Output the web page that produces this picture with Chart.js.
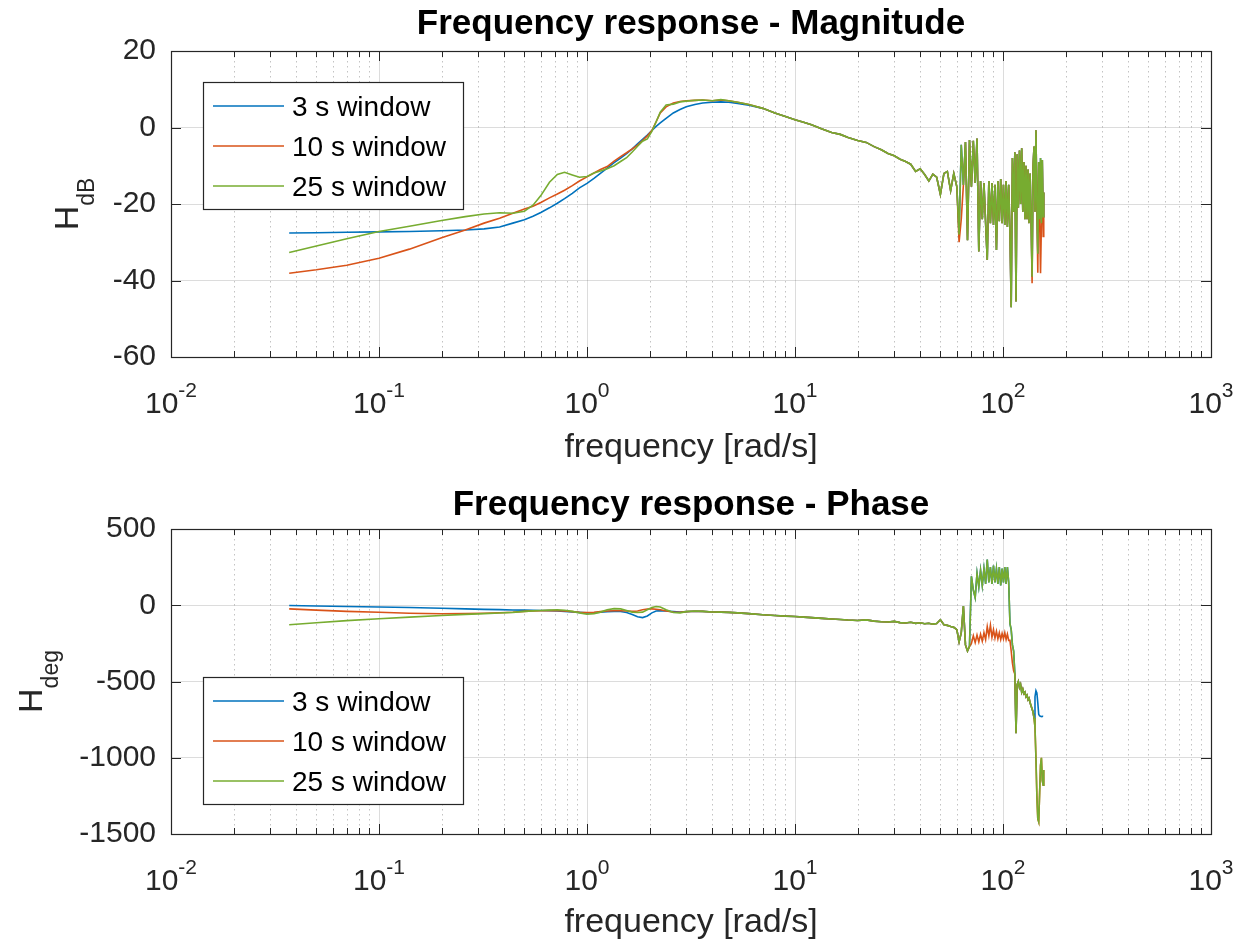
<!DOCTYPE html>
<html>
<head>
<meta charset="utf-8">
<title>Frequency response</title>
<script src="https://cdn.jsdelivr.net/npm/chart.js@4.4.1/dist/chart.umd.min.js"></script>
<style>
  body { margin: 0; background: #fff; }
  canvas { display: block; }
</style>
</head>
<body>
<canvas id="magChart" width="1241" height="474"></canvas>
<canvas id="phaseChart" width="1241" height="474"></canvas>
<script>
// frequency points [rad/s]
const freq = [
  0.037, 0.05, 0.07, 0.1, 0.14, 0.2, 0.26, 0.32, 0.38, 0.44,
  0.5, 0.55, 0.6, 0.66, 0.72, 0.78, 0.85, 0.92, 1.0, 1.08,
  1.16, 1.25, 1.35, 1.45, 1.55, 1.65, 1.75, 1.85, 1.95, 2.05,
  2.15, 2.25, 2.4, 2.6, 2.8, 3.0, 3.3, 3.6, 4.0, 4.4,
  4.8, 5.3, 6.0, 7.0, 8.0, 9.0, 10, 11, 12, 13.5,
  15, 16.5, 18, 20, 22, 24, 26, 28, 30, 32,
  34, 36, 38, 40, 42, 44, 46, 48, 50, 52,
  54, 56, 58, 60, 61.5, 63, 64.5, 66, 67.5, 69,
  70.5, 72, 73.5, 75, 76.5, 78, 79.5, 81, 82.5, 84,
  85.5, 87, 88.5, 90, 91.5, 93, 94.5, 96, 97.5, 99,
  100.5, 102, 103.5, 105, 106.5, 108, 109.5, 111, 112.5, 114,
  115.5, 117, 118.5, 120, 121.5, 123, 124.5, 126, 127.5, 129,
  130.5, 132, 133.5, 135, 136.5, 138, 139.5, 141, 142.5, 144,
  145.5, 147, 148.5, 150, 151.5, 153, 154.5, 156, 157
];

// magnitude [dB]
const mag3s = [
  -27.6, -27.5, -27.4, -27.3, -27.2, -27.0, -26.8, -26.5, -26.0, -25.0,
  -24.1, -23.2, -22.2, -21.0, -19.8, -18.6, -17.2, -15.8, -14.6, -13.3,
  -12.0, -10.6, -9.2, -8.0, -6.8, -5.6, -4.3, -3.1, -2.0, -0.8,
  0.3, 1.2, 2.4, 3.8, 4.7, 5.4, 6.0, 6.4, 6.6, 6.7,
  6.6, 6.3, 5.8, 5.0, 3.8, 2.9, 2.0, 1.4, 0.7, -0.4,
  -1.3, -1.8, -2.6, -3.4, -3.9, -5.0, -5.8, -6.8, -7.4, -8.3,
  -8.9, -9.6, -11.5, -10.8, -12.3, -14.0, -12.2, -13.0, -17.5, -12.0,
  -11.5, -16.5, -12.0, -15.5, -28.0, -4.5, -15.0, -3.8, -29.5, -3.3,
  -15.5, -3.5, -14.5, -2.9, -32.4, -14.0, -24.0, -14.5, -25.0, -34.6,
  -14.0, -25.0, -14.5, -25.5, -15.0, -32.0, -14.0, -24.5, -13.5, -25.0,
  -15.0, -25.5, -14.0, -26.0, -15.0, -27.0, -47.0, -8.0, -22.0, -6.5,
  -45.5, -7.0, -21.0, -6.0, -20.0, -5.4, -22.0, -9.0, -24.0, -10.0,
  -24.0, -11.0, -25.0, -12.0, -24.0, -39.0, -10.0, -5.0, -22.0, -0.7,
  -20.0, -33.0, -9.0, -24.0, -8.0, -25.0, -8.5, -23.3, -17.0
];
const mag10s = [
  -38.1, -37.2, -36.0, -34.2, -31.8, -28.8, -26.8, -25.0, -23.7, -22.4,
  -21.3, -20.6, -19.6, -18.4, -17.4, -16.4, -15.2, -14.0, -12.9, -11.9,
  -11.0, -10.2, -8.8, -7.6, -6.6, -5.6, -4.6, -3.4, -2.2, -0.8,
  1.5, 3.8, 5.4, 6.4, 6.8, 7.0, 7.1, 7.2, 7.0, 7.2,
  7.0, 6.6, 6.0, 5.0, 3.8, 2.9, 2.0, 1.4, 0.7, -0.4,
  -1.3, -1.8, -2.6, -3.4, -3.9, -5.0, -5.8, -6.8, -7.4, -8.3,
  -8.9, -9.6, -11.5, -10.8, -12.3, -14.0, -12.2, -13.0, -17.5, -12.0,
  -11.5, -16.5, -12.0, -15.5, -30.0, -24.0, -15.0, -3.8, -29.5, -3.3,
  -15.5, -3.5, -14.5, -2.9, -32.4, -14.0, -24.0, -14.5, -25.0, -34.6,
  -14.0, -25.0, -14.5, -25.5, -15.0, -32.0, -14.0, -24.5, -13.5, -25.0,
  -15.0, -25.5, -14.0, -26.0, -15.0, -27.0, -47.0, -8.0, -22.0, -6.5,
  -45.5, -7.0, -21.0, -6.0, -20.0, -5.4, -22.0, -9.0, -24.0, -10.0,
  -24.0, -11.0, -25.0, -12.0, -24.0, -40.7, -10.0, -5.0, -22.0, -0.7,
  -20.0, -38.0, -9.0, -24.0, -38.1, -25.0, -8.5, -28.5, -17.0
];
const mag25s = [
  -32.7, -31.0, -29.1, -27.2, -25.8, -24.3, -23.3, -22.6, -22.3, -22.4,
  -21.9, -20.3, -17.8, -14.3, -12.3, -11.7, -12.4, -13.0, -12.8, -11.9,
  -11.4, -10.8, -10.0, -8.9, -7.9, -6.4, -4.9, -3.6, -3.0, -1.0,
  1.5, 4.0, 5.9, 6.1, 6.7, 6.9, 7.1, 7.2, 7.0, 7.3,
  7.0, 6.6, 6.0, 5.0, 3.8, 2.9, 2.0, 1.4, 0.7, -0.4,
  -1.3, -1.8, -2.6, -3.4, -3.9, -5.0, -5.8, -6.8, -7.4, -8.3,
  -8.9, -9.6, -11.5, -10.8, -12.3, -14.0, -12.2, -13.0, -17.5, -12.0,
  -11.5, -16.5, -12.0, -15.5, -28.0, -4.5, -15.0, -3.8, -29.5, -3.3,
  -15.5, -3.5, -14.5, -2.9, -32.4, -14.0, -24.0, -14.5, -25.0, -34.6,
  -14.0, -25.0, -14.5, -25.5, -15.0, -32.0, -14.0, -24.5, -13.5, -25.0,
  -15.0, -25.5, -14.0, -26.0, -15.0, -27.0, -47.0, -8.0, -22.0, -6.5,
  -45.5, -7.0, -21.0, -6.0, -20.0, -5.4, -22.0, -9.0, -24.0, -10.0,
  -24.0, -11.0, -25.0, -12.0, -24.0, -39.0, -10.0, -5.0, -22.0, -0.7,
  -20.0, -33.0, -9.0, -24.0, -8.0, -25.0, -8.5, -23.3, -17.0
];

// phase [deg]
const phase3s = [
  -2, -5, -8, -11, -15, -20, -24, -27, -29, -31,
  -32, -33, -34, -35, -37, -40, -44, -47, -50, -49,
  -46, -42, -40, -41, -48, -60, -75, -81, -70, -50,
  -38, -35, -38, -42, -45, -42, -39, -40, -44, -45,
  -47, -50, -55, -62, -67, -71, -74, -78, -81, -86,
  -90, -93, -97, -100, -96, -104, -108, -110, -106, -114,
  -116, -112, -119, -115, -121, -118, -124, -120, -95, -128,
  -132, -140, -145, -160, -240, -180, -5, -260, -300, -270,
  190, 100, 50, 210, 120, 230, 130, 240, 140, 300,
  150, 250, 140, 260, 150, 240, 140, 250, 130, 240,
  150, 250, 140, 250, 150, -120, -160, -260, -300, -450,
  -840, -520, -500, -540, -520, -570, -550, -580, -570, -600,
  -590, -620, -610, -640, -660, -680, -700, -740, -600, -560,
  -575, -640, -715, -725, -728, -730, -728, -730, -730
];
const phase10s = [
  -24, -32, -40, -46, -52, -56, -55, -52, -49, -46,
  -40, -37, -36, -35, -36, -38, -42, -46, -48, -46,
  -42, -38, -36, -36, -38, -40, -38, -30, -25, -24,
  -26, -30, -38, -44, -46, -42, -39, -40, -44, -45,
  -47, -50, -55, -62, -67, -71, -74, -78, -81, -86,
  -90, -93, -97, -100, -96, -104, -108, -110, -106, -114,
  -116, -112, -119, -115, -121, -118, -124, -120, -95, -128,
  -132, -140, -145, -160, -240, -180, -5, -260, -300, -270,
  -250, -200, -245, -195, -240, -190, -235, -180, -225, -140,
  -200, -130, -210, -160, -215, -170, -220, -180, -225, -185,
  -220, -180, -225, -190, -230, -230, -300, -380, -430, -450,
  -840, -520, -500, -540, -520, -570, -550, -580, -570, -600,
  -590, -620, -610, -640, -660, -680, -700, -740, -800, -1000,
  -1250, -1400, -1420, -1230, -1050, -1000, -1150, -1180, -1080
];
const phase25s = [
  -128, -115, -101, -89, -78, -67, -60, -55, -51, -47,
  -40, -37, -34, -32, -30, -33, -40, -50, -59, -55,
  -45, -30, -22, -24, -35, -45, -48, -45, -30, -15,
  -8, -12, -30, -48, -50, -42, -38, -40, -44, -45,
  -47, -50, -55, -62, -67, -71, -74, -78, -81, -86,
  -90, -93, -97, -100, -96, -104, -108, -110, -106, -114,
  -116, -112, -119, -115, -121, -118, -124, -120, -95, -128,
  -132, -140, -145, -160, -240, -180, -5, -260, -300, -270,
  190, 100, 50, 210, 120, 230, 130, 240, 140, 300,
  150, 250, 140, 260, 150, 240, 140, 250, 130, 240,
  150, 250, 140, 250, 150, -120, -160, -260, -300, -450,
  -840, -520, -500, -540, -520, -570, -550, -580, -570, -600,
  -590, -620, -610, -640, -660, -680, -700, -740, -800, -1000,
  -1250, -1400, -1420, -1230, -1050, -1000, -1150, -1180, -1080
];

const windowLabels = ['3 s window', '10 s window', '25 s window'];
const windowColors = ['#0072BD', '#D95319', '#77AC30'];
const decades = [-2, -1, 0, 1, 2, 3];

const FONT = '"Liberation Sans", Arial, Helvetica, sans-serif';
const AXIS_COLOR = '#262626';
Chart.defaults.font.family = FONT;

function points(values) {
  return freq.map((f, i) => ({ x: f, y: values[i] }));
}

function hline(ctx, x1, y1, x2, y2) {
  ctx.beginPath();
  ctx.moveTo(x1, y1);
  ctx.lineTo(x2, y2);
  ctx.stroke();
}

// matlab look: log grid, box with inward ticks, 10^n labels, subscript ylabel, boxed legend
const matlabAxes = {
  id: 'matlabAxes',
  beforeDatasetsDraw(chart) {
    const { ctx, chartArea: a, scales: { x } } = chart;
    ctx.save();
    ctx.lineWidth = 1;
    decades.forEach(e => {
      if (e === 3) return;
      for (let m = 1; m <= 9; m++) {
        const px = Math.round(x.getPixelForValue(m * Math.pow(10, e))) + 0.5;
        if (m === 1) {
          ctx.strokeStyle = 'rgba(38,38,38,0.16)';
          ctx.setLineDash([]);
        } else {
          ctx.strokeStyle = 'rgba(38,38,38,0.28)';
          ctx.setLineDash([1.5, 3.5]);
        }
        hline(ctx, px, a.top, px, a.bottom);
      }
    });
    ctx.restore();
  },
  afterDraw(chart, args, opts) {
    const { ctx, chartArea: a, scales: { x, y } } = chart;
    ctx.save();
    ctx.strokeStyle = AXIS_COLOR;
    ctx.lineWidth = 1;
    ctx.setLineDash([]);

    // x ticks (inward, top + bottom)
    decades.forEach(e => {
      for (let m = 1; m <= 9; m++) {
        const v = m * Math.pow(10, e);
        if (v > 1000) break;
        const px = Math.round(x.getPixelForValue(v)) + 0.5;
        const len = m === 1 ? 10 : 6;
        hline(ctx, px, a.bottom, px, a.bottom - len);
        hline(ctx, px, a.top, px, a.top + len);
      }
    });
    // y ticks (inward, left + right)
    y.ticks.forEach(t => {
      const py = Math.round(y.getPixelForValue(t.value)) + 0.5;
      hline(ctx, a.left, py, a.left + 10, py);
      hline(ctx, a.right, py, a.right - 10, py);
    });
    // box
    ctx.lineWidth = 1.2;
    ctx.strokeRect(Math.round(a.left) + 0.5, Math.round(a.top) + 0.5,
      Math.round(a.right - a.left), Math.round(a.bottom - a.top));

    // x tick labels 10^n
    ctx.fillStyle = AXIS_COLOR;
    ctx.textBaseline = 'alphabetic';
    ctx.textAlign = 'left';
    decades.forEach(e => {
      const px = x.getPixelForValue(Math.pow(10, e));
      ctx.font = '30px ' + FONT;
      const w1 = ctx.measureText('10').width;
      ctx.font = '21px ' + FONT;
      const w2 = ctx.measureText(String(e)).width;
      const start = px - (w1 + w2) / 2;
      const base = a.bottom + 56;
      ctx.font = '30px ' + FONT;
      ctx.fillText('10', start, base);
      ctx.font = '21px ' + FONT;
      ctx.fillText(String(e), start + w1, base - 16);
    });

    // y label with subscript
    ctx.save();
    ctx.font = '34px ' + FONT;
    const hw = ctx.measureText(opts.yMain).width;
    ctx.font = '23px ' + FONT;
    const sw = ctx.measureText(opts.ySub).width;
    ctx.translate(opts.yLabelX, (a.top + a.bottom) / 2);
    ctx.rotate(-Math.PI / 2);
    const s = -(hw + sw) / 2;
    ctx.font = '34px ' + FONT;
    ctx.fillText(opts.yMain, s, 0);
    ctx.font = '23px ' + FONT;
    ctx.fillText(opts.ySub, s + hw, 16);
    ctx.restore();

    // legend box
    const lx = a.left + 32;
    const ly = a.top + opts.legendTop;
    ctx.fillStyle = '#fff';
    ctx.fillRect(lx, ly, 260, 127);
    ctx.strokeStyle = AXIS_COLOR;
    ctx.lineWidth = 1.2;
    ctx.strokeRect(lx + 0.5, ly + 0.5, 260, 127);
    ctx.font = '28px ' + FONT;
    windowLabels.forEach((label, i) => {
      const ey = ly + 24 + i * 40;
      ctx.strokeStyle = windowColors[i];
      ctx.lineWidth = 1.6;
      hline(ctx, lx + 10, ey, lx + 81, ey);
      ctx.fillStyle = '#000';
      ctx.fillText(label, lx + 89, ey + 10);
    });
    ctx.restore();
  }
};

function makeChart(id, cfg) {
  const order = [2, 1, 0]; // 25 s drawn on top, like the original
  return new Chart(document.getElementById(id), {
    type: 'line',
    data: {
      datasets: cfg.series.map((vals, i) => ({
        label: windowLabels[i],
        data: points(vals),
        borderColor: windowColors[i],
        backgroundColor: windowColors[i],
        borderWidth: 1.6,
        pointRadius: 0,
        tension: 0,
        order: order[i]
      }))
    },
    options: {
      responsive: false,
      animation: false,
      devicePixelRatio: 1,
      layout: { padding: { left: 0, right: 30, top: 0, bottom: 0 } },
      plugins: {
        legend: { display: false },
        tooltip: { enabled: false },
        title: {
          display: true,
          fullSize: false,
          text: cfg.title,
          color: '#000',
          font: { size: 35, weight: 'bold' },
          padding: cfg.titlePad
        },
        matlabAxes: cfg.axes
      },
      scales: {
        x: {
          type: 'logarithmic',
          min: 0.01,
          max: 1000,
          grid: { display: false },
          border: { display: false },
          ticks: { display: false },
          title: {
            display: true,
            text: 'frequency [rad/s]',
            color: AXIS_COLOR,
            font: { size: 34 },
            padding: { top: 0, bottom: cfg.xTitlePad }
          },
          afterFit(s) { s.height = cfg.xHeight; }
        },
        y: {
          min: cfg.yMin,
          max: cfg.yMax,
          grid: { color: 'rgba(38,38,38,0.16)', drawTicks: false },
          border: { display: false },
          ticks: {
            stepSize: cfg.yStep,
            color: AXIS_COLOR,
            padding: 15,
            font: { size: 30 },
            callback: v => String(v)
          },
          afterFit(s) { s.width = 171; }
        }
      }
    },
    plugins: [matlabAxes]
  });
}

makeChart('magChart', {
  title: 'Frequency response - Magnitude',
  titlePad: { top: 3.4, bottom: 5.6 },
  series: [mag3s, mag10s, mag25s],
  yMin: -60, yMax: 20, yStep: 20,
  xHeight: 117,
  xTitlePad: 6,
  axes: { yMain: 'H', ySub: 'dB', yLabelX: 78, legendTop: 31 }
});

makeChart('phaseChart', {
  title: 'Frequency response - Phase',
  titlePad: { top: 10, bottom: 3 },
  series: [phase3s, phase10s, phase25s],
  yMin: -1500, yMax: 500, yStep: 500,
  xHeight: 114,
  xTitlePad: 5,
  axes: { yMain: 'H', ySub: 'deg', yLabelX: 42, legendTop: 148 }
});
</script>
</body>
</html>
